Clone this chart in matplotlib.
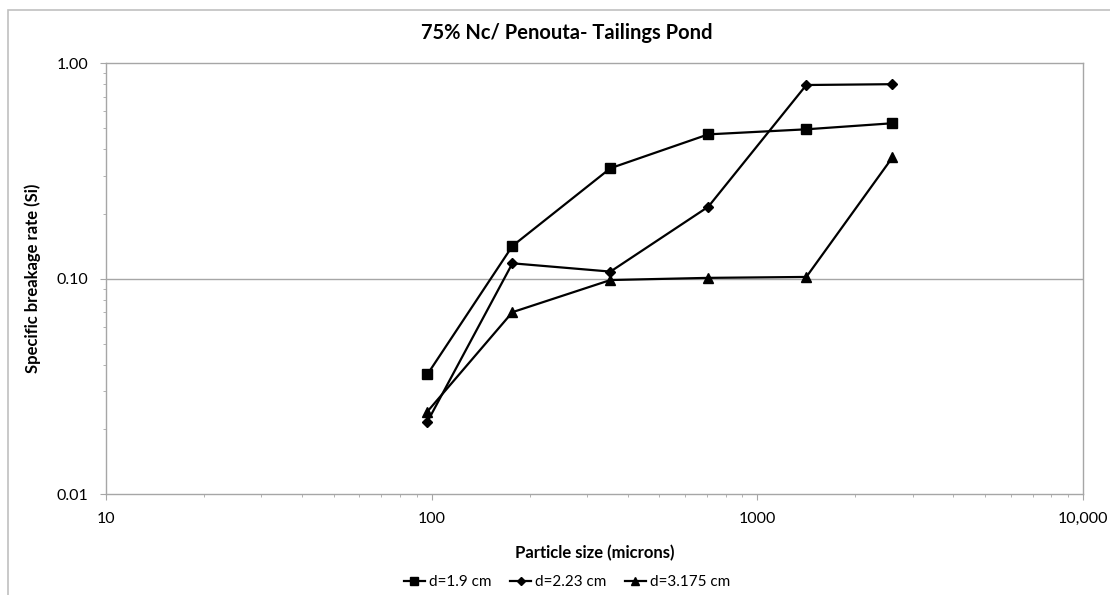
import matplotlib
matplotlib.use("Agg")
import matplotlib.pyplot as plt
from matplotlib.patches import Rectangle

plt.rcParams['font.family'] = ['Lato', 'DejaVu Sans']

# particle size (microns) and specific breakage rates for each ball diameter
size_um = [97, 177, 354, 707, 1414, 2600]
s_d19 = [0.036, 0.142, 0.326, 0.468, 0.494, 0.527]
s_d223 = [0.0217, 0.118, 0.108, 0.216, 0.793, 0.800]
s_d3175 = [0.0242, 0.070, 0.0987, 0.101, 0.102, 0.366]

series_labels = ['d=1.9 cm', 'd=2.23 cm', 'd=3.175 cm']
xtick_vals = [10, 100, 1000, 10000]
xtick_text = ['10', '100', '1000', '10,000']
ytick_vals = [0.01, 0.1, 1.0]
ytick_text = ['0.01', '0.10', '1.00']

W, H = 1110, 595
fig = plt.figure(figsize=(W / 100, H / 100), dpi=100)
grey = '#a6a6a6'

# outer chart border (only top and left edge fall inside the image)
fig.add_artist(Rectangle((8 / W, -0.2), 1.5, 1 - 10 / H + 0.2,
                         transform=fig.transFigure, fill=False,
                         edgecolor='#c0c0c0', linewidth=1.2))

ax = fig.add_axes([106 / W, 1 - 494.3 / H, (1083 - 106) / W, (494.3 - 63.3) / H])
ax.set_xscale('log')
ax.set_yscale('log')
ax.set_xlim(10, 10000)
ax.set_ylim(0.01, 1.0)

ax.plot(size_um, s_d19, color='black', lw=1.6, marker='s', ms=7.5, label=series_labels[0])
ax.plot(size_um, s_d223, color='black', lw=1.6, marker='D', ms=5, label=series_labels[1])
ax.plot(size_um, s_d3175, color='black', lw=1.6, marker='^', ms=7.5, label=series_labels[2])

for sp in ax.spines.values():
    sp.set_color(grey)
    sp.set_linewidth(1.0)
ax.axhline(0.1, color=grey, lw=1.0, zorder=0)

ax.set_xticks(xtick_vals)
ax.set_xticklabels(xtick_text)
ax.set_yticks(ytick_vals)
ax.set_yticklabels(ytick_text)
ax.tick_params(which='major', direction='out', length=4.5, color=grey, labelsize=11.5, pad=8)
ax.tick_params(which='minor', direction='out', length=2, color=grey)
ax.tick_params(axis='x', which='major', pad=8)
ax.xaxis.set_minor_formatter(matplotlib.ticker.NullFormatter())
ax.yaxis.set_minor_formatter(matplotlib.ticker.NullFormatter())

ax.set_xlabel('Particle size (microns)', fontsize=12, fontweight='bold')
ax.xaxis.set_label_coords(0.5, -(553 - 494.3) / (494.3 - 63.3), transform=ax.transAxes)
ax.xaxis.label.set_va('center')
ax.set_ylabel('Specific breakage rate (Si)', fontsize=12, fontweight='bold')
ax.yaxis.set_label_coords(-(106 - 33) / (1083 - 106), 0.5, transform=ax.transAxes)
ax.yaxis.label.set_va('center')

fig.text(567 / W, 1 - 33 / H, '75% Nc/ Penouta- Tailings Pond', ha='center', va='center',
         fontsize=14.5, fontweight='bold')

ax.legend(loc='center', bbox_to_anchor=(567 / W, 1 - 582 / H), bbox_transform=fig.transFigure,
          ncol=3, frameon=False, fontsize=11, handlelength=1.4, handletextpad=0.25,
          columnspacing=1.2, markerscale=0.8)

fig.savefig('out.png', dpi=100)
